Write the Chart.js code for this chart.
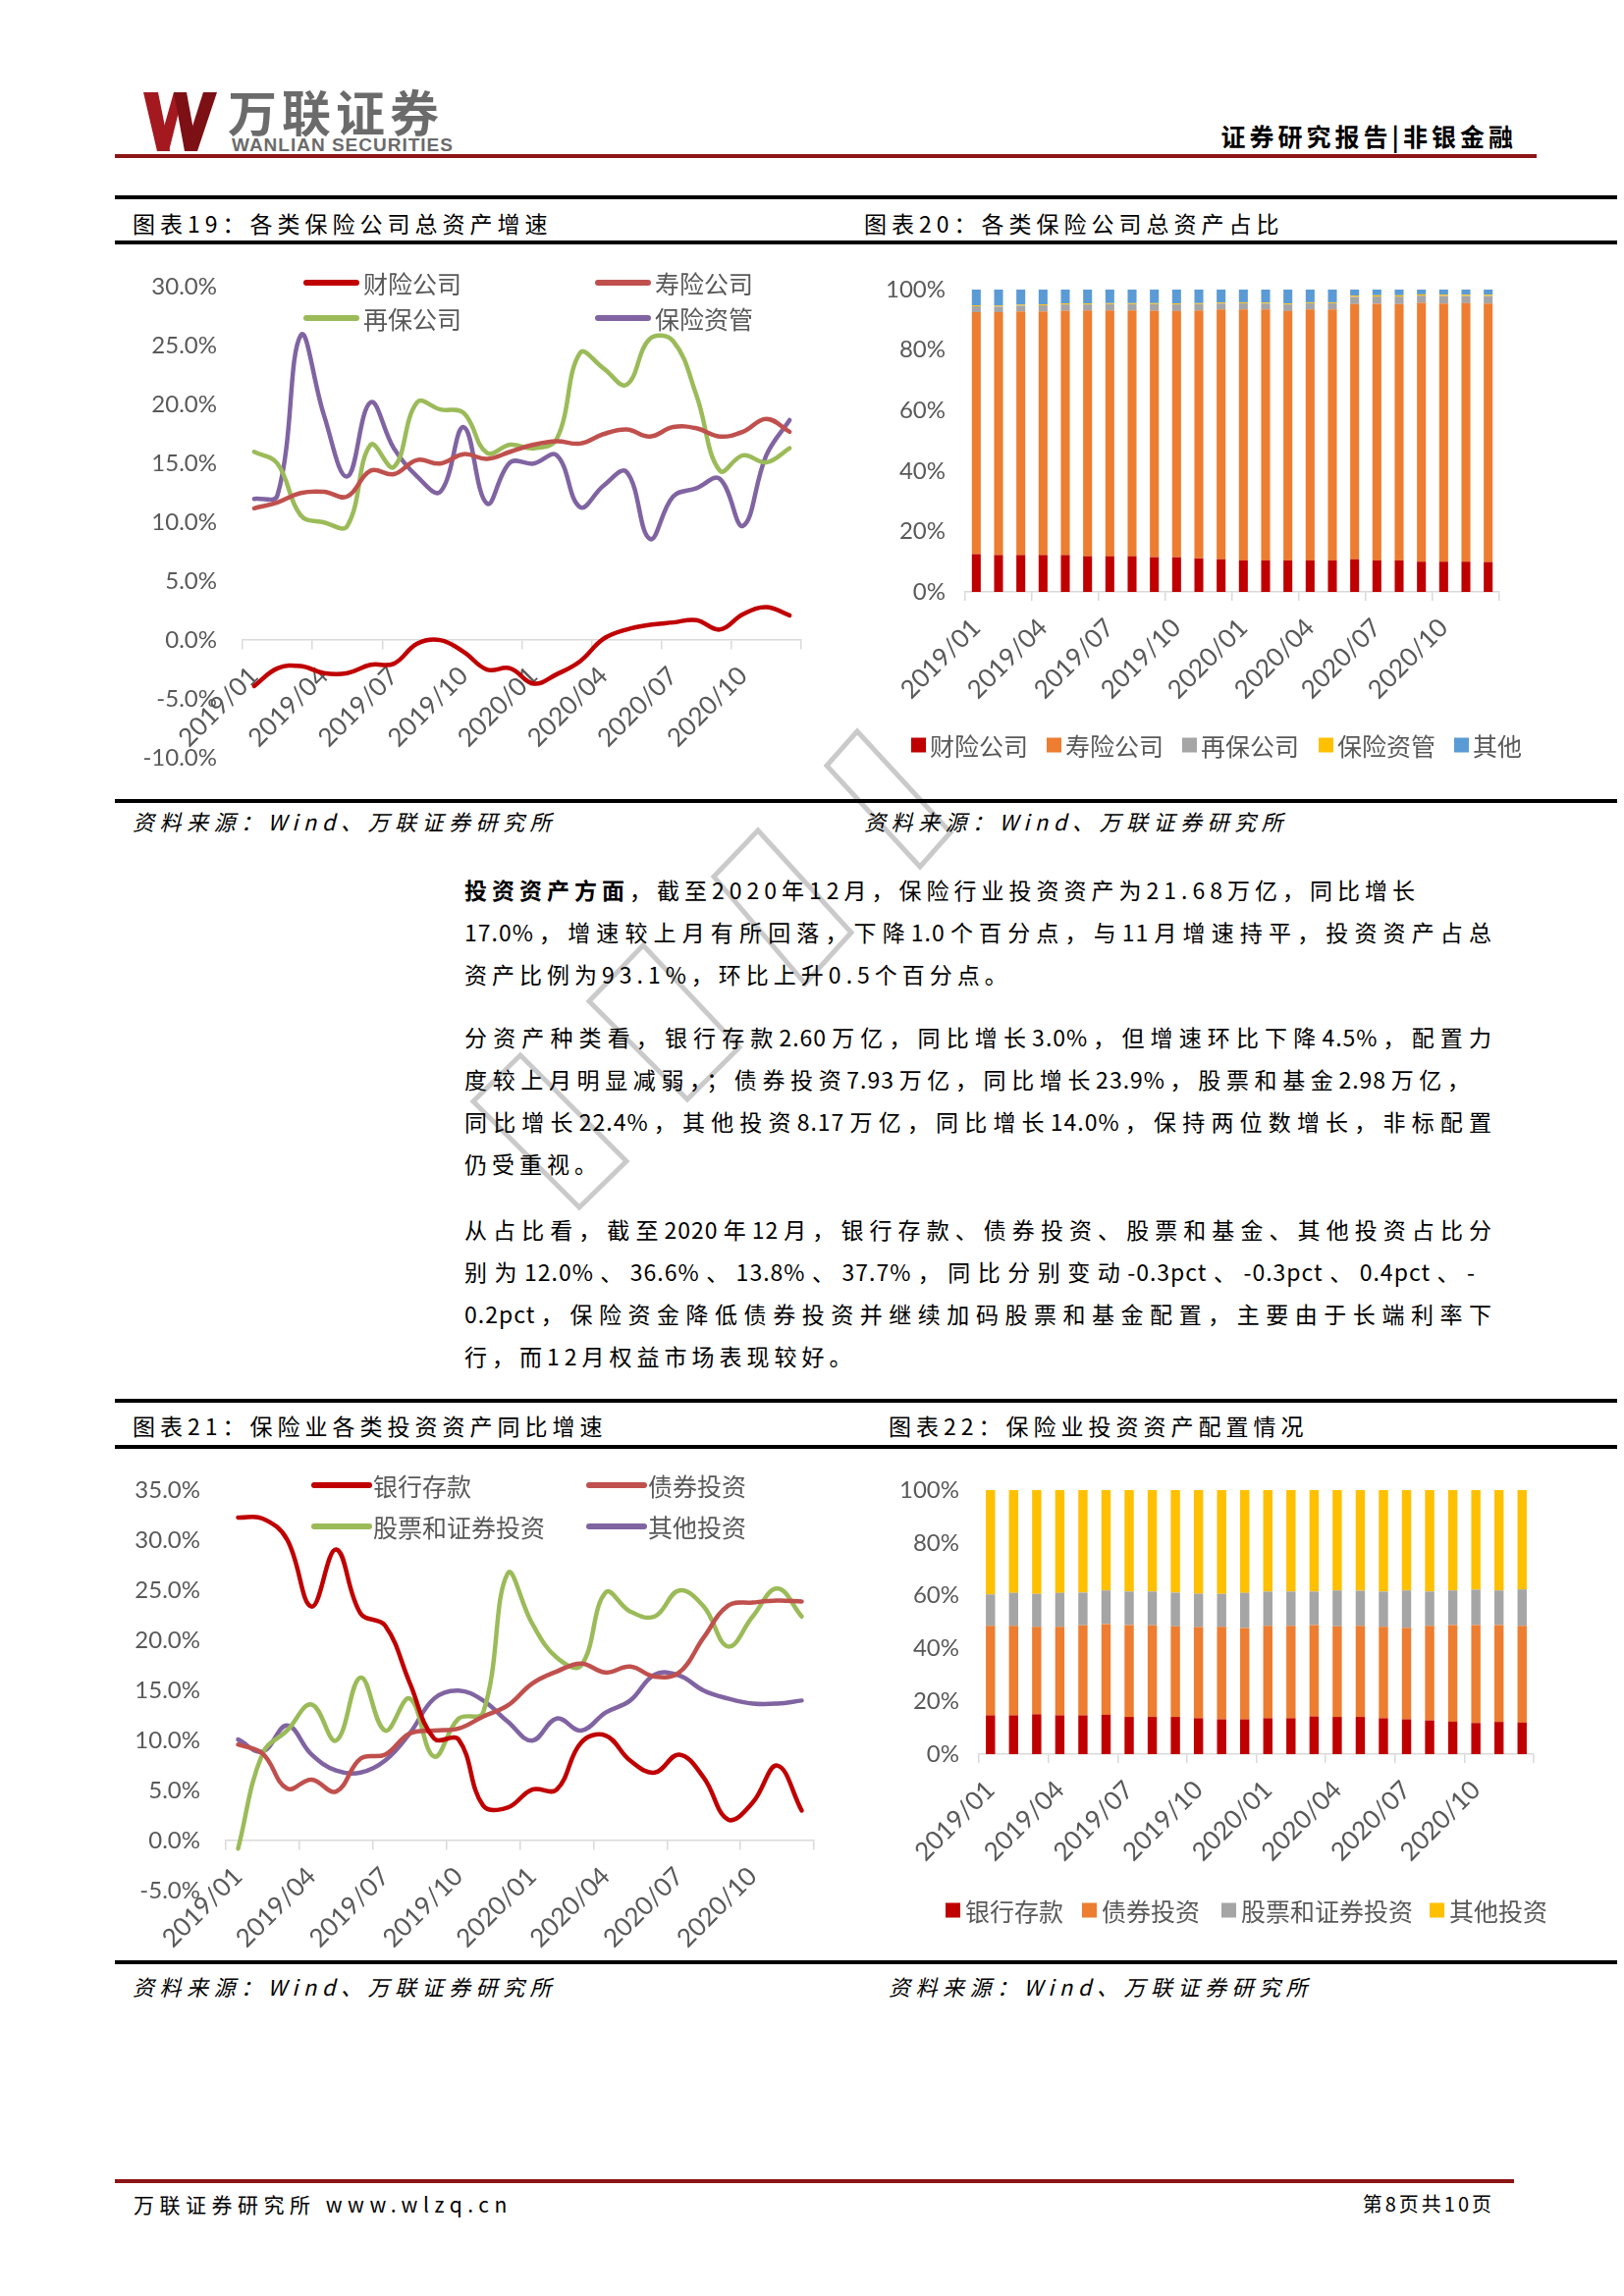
<!DOCTYPE html>
<html>
<head>
<meta charset="utf-8">
<script src="https://cdn.jsdelivr.net/npm/chart.js@4.4.0/dist/chart.umd.min.js"></script>
<style>
  body { margin:0; width:1654px; height:2339px; background:#fff; position:relative; overflow:hidden;
         font-family:'Noto Sans CJK SC', sans-serif; color:#000; }
  .abs { position:absolute; }
  .hr { position:absolute; left:117px; width:1530px; height:4px; background:#000; }
  .red { position:absolute; height:4px; background:#8c1515; }
  .t { position:absolute; font-size:23px; line-height:30px; height:30px; letter-spacing:5px; white-space:nowrap; }
  .src { font-style:italic; font-size:22px; letter-spacing:5.5px; }
  .p { position:absolute; left:473px; font-size:23px; line-height:30px; height:30px; letter-spacing:5px; white-space:nowrap; }
  .j { white-space:normal; letter-spacing:1px; text-align:justify; text-align-last:justify; }
  canvas { position:absolute; }
</style>
</head>
<body>

<!-- watermark outlines behind the text -->
<svg class="abs" style="left:0;top:0" width="1654" height="1300">
  <g fill="none" stroke="#cacaca" stroke-width="5">
    <polygon points="873,745 968,848 937,883 842,780"/>
    <polygon points="772,846 867,950 820,1002 727,893"/>
    <polygon points="655,963 753,1067 700,1120 600,1020"/>
    <polygon points="530,1075 638,1183 590,1230 482,1122"/>
  </g>
</svg>

<!-- header -->
<svg class="abs" style="left:140px;top:88px" width="90" height="72">
  <polygon points="6,6 21,6 33,66 20,66" fill="#a3191f"/>
  <polygon points="20,66 32,66 47,6 37,6" fill="#a3191f"/>
  <polygon points="37,6 50,6 61,66 48,66" fill="#7d1015"/>
  <polygon points="48,66 61,66 81,6 67,6" fill="#7d1015"/>
</svg>
<div class="abs" style="left:232px;top:84px;font-size:50px;font-weight:700;color:#6b6b6b;letter-spacing:5px;line-height:56px;">万联证券</div>
<div class="abs" style="left:236px;top:138px;font-family:'Liberation Sans';font-size:19px;font-weight:700;color:#6b6b6b;line-height:20px;letter-spacing:1px;">WANLIAN SECURITIES</div>
<div class="abs" style="right:109px;top:123px;font-size:25px;font-weight:700;letter-spacing:4px;line-height:30px;">证券研究报告|非银金融</div>
<div class="red" style="left:117px;top:157px;width:1448px;"></div>

<!-- top charts -->
<div class="hr" style="top:199px"></div>
<div class="t" style="left:135px;top:212px">图表19：各类保险公司总资产增速</div>
<div class="t" style="left:880px;top:212px">图表20：各类保险公司总资产占比</div>
<div class="hr" style="top:245px"></div>
<canvas id="c19" width="740" height="563" style="left:117px;top:252px"></canvas>
<canvas id="c20" width="760" height="563" style="left:870px;top:252px"></canvas>
<div class="hr" style="top:814px"></div>
<div class="t src" style="left:135px;top:821px">资料来源：Wind、万联证券研究所</div>
<div class="t src" style="left:880px;top:821px">资料来源：Wind、万联证券研究所</div>

<!-- text -->
<div class="p" style="top:891px"><b>投资资产方面</b>，截至2020年12月，保险行业投资资产为21.68万亿，同比增长</div>
<div class="p j" style="top:934px;width:1047px">17.0%，增速较上月有所回落，下降1.0个百分点，与11月增速持平，投资资产占总</div>
<div class="p" style="top:977px">资产比例为93.1%，环比上升0.5个百分点。</div>

<div class="p j" style="top:1041px;width:1047px">分资产种类看，银行存款2.60万亿，同比增长3.0%，但增速环比下降4.5%，配置力</div>
<div class="p j" style="top:1084px;width:1025px">度较上月明显减弱，；债券投资7.93万亿，同比增长23.9%，股票和基金2.98万亿，</div>
<div class="p j" style="top:1127px;width:1047px">同比增长22.4%，其他投资8.17万亿，同比增长14.0%，保持两位数增长，非标配置</div>
<div class="p" style="top:1170px">仍受重视。</div>

<div class="p j" style="top:1237px;width:1047px">从占比看，截至2020年12月，银行存款、债券投资、股票和基金、其他投资占比分</div>
<div class="p j" style="top:1280px;width:1030px">别为12.0%、36.6%、13.8%、37.7%，同比分别变动-0.3pct、-0.3pct、0.4pct、-</div>
<div class="p j" style="top:1323px;width:1047px">0.2pct，保险资金降低债券投资并继续加码股票和基金配置，主要由于长端利率下</div>
<div class="p" style="top:1366px">行，而12月权益市场表现较好。</div>

<!-- bottom charts -->
<div class="hr" style="top:1425px"></div>
<div class="t" style="left:135px;top:1437px">图表21：保险业各类投资资产同比增速</div>
<div class="t" style="left:905px;top:1437px">图表22：保险业投资资产配置情况</div>
<div class="hr" style="top:1472px"></div>
<canvas id="c21" width="740" height="518" style="left:117px;top:1478px"></canvas>
<canvas id="c22" width="760" height="518" style="left:870px;top:1478px"></canvas>
<div class="hr" style="top:1997px"></div>
<div class="t src" style="left:135px;top:2008px">资料来源：Wind、万联证券研究所</div>
<div class="t src" style="left:905px;top:2008px">资料来源：Wind、万联证券研究所</div>

<!-- footer -->
<div class="red" style="left:117px;top:2220px;width:1425px;"></div>
<div class="abs" style="left:136px;top:2231px;font-size:21px;letter-spacing:5.5px;line-height:28px;">万联证券研究所 www.wlzq.cn</div>
<div class="abs" style="right:132px;top:2231px;font-size:20px;letter-spacing:3px;line-height:28px;">第8页共10页</div>

<script>
// categories
const months = ['2019/01','2019/02','2019/03','2019/04','2019/05','2019/06','2019/07','2019/08','2019/09','2019/10','2019/11','2019/12',
                '2020/01','2020/02','2020/03','2020/04','2020/05','2020/06','2020/07','2020/08','2020/09','2020/10','2020/11','2020/12'];

// 图表19 各类保险公司总资产增速 (%)
const growthCaixian = [-3.9,-2.4,-2.2,-2.8,-2.8,-2.1,-2.0,-0.3,0.0,-1.0,-2.5,-2.4,-3.7,-2.9,-1.8,0.1,0.9,1.3,1.5,1.7,0.9,2.2,2.8,2.1];
const growthShouxian = [11.2,11.7,12.5,12.6,12.2,14.4,14.1,15.3,15.0,15.8,15.4,16.0,16.6,16.9,16.7,17.5,17.9,17.3,18.1,18.0,17.3,17.7,18.8,17.7];
const growthZaibao = [16.0,15.0,10.6,10.0,9.7,16.6,14.7,20.2,19.6,19.3,15.9,16.6,16.3,17.1,24.4,23.1,21.7,25.6,25.4,20.8,14.4,15.7,15.1,16.3];
const growthZiguan = [12.0,12.3,25.9,19.1,13.9,20.2,16.3,13.9,12.6,18.1,11.6,15.1,15.0,15.7,11.3,13.1,14.3,8.6,12.2,12.9,13.7,9.7,15.7,18.7];

// 图表20 各类保险公司总资产占比 (%)
const shareCaixian = [12.5,12.2,12.2,12.2,12.2,11.8,11.8,11.8,11.5,11.5,11.1,10.8,10.4,10.4,10.4,10.4,10.4,10.8,10.4,10.4,10.0,10.0,10.0,9.9];
const shareShouxian = [80.0,80.3,80.6,80.6,80.8,81.3,81.3,81.3,81.5,81.4,82.0,82.6,83.0,83.0,82.5,83.0,83.0,84.4,84.9,84.8,85.6,85.4,85.5,85.5];
const shareZaibao = [2.0,1.9,1.9,2.0,2.1,2.0,2.1,2.1,2.2,2.2,2.1,2.0,2.1,2.0,2.2,2.1,2.1,2.4,2.4,2.5,2.4,2.5,2.4,2.5];
const shareZiguan = [0.3,0.3,0.3,0.3,0.3,0.3,0.3,0.3,0.3,0.3,0.3,0.3,0.3,0.3,0.3,0.3,0.3,0.4,0.4,0.4,0.4,0.4,0.4,0.4];
const shareQita = [5.2,5.3,5.0,4.9,4.6,4.6,4.5,4.5,4.5,4.6,4.5,4.3,4.2,4.3,4.6,4.2,4.2,2.0,1.9,1.9,1.6,1.7,1.7,1.7];

// 图表21 保险业各类投资资产同比增速 (%)
const growthDeposit = [32.3,32.2,30.1,23.4,29.1,22.7,21.5,15.8,10.2,10.1,3.5,3.3,5.1,5.1,9.8,10.5,8.0,6.8,8.6,6.3,2.1,3.8,7.5,3.0];
const growthBond = [9.6,8.7,5.2,6.1,4.9,8.2,8.6,10.7,11.0,11.2,12.4,13.5,15.7,16.9,17.7,16.8,17.4,16.4,16.8,20.3,23.5,23.8,24.0,23.9];
const growthStock = [-0.8,8.7,11.0,13.6,10.0,16.3,11.0,14.2,8.4,12.2,12.8,26.7,21.7,18.3,17.5,24.8,22.9,22.4,25.0,23.4,19.4,22.4,25.2,22.4];
const growthOther = [10.1,8.9,11.5,8.6,7.0,6.8,8.0,10.7,14.2,15.0,14.0,11.9,10.0,12.2,11.0,12.8,14.0,16.6,16.5,15.0,14.2,13.7,13.7,14.0];

// 图表22 保险业投资资产配置情况 (%)
const allocDeposit = [14.7,14.7,15.1,14.7,14.7,14.9,14.1,14.1,14.1,13.6,13.2,13.2,13.6,13.6,14.3,14.1,14.1,13.6,13.2,12.8,12.3,11.8,12.2,12.0];
const allocBond = [33.9,33.9,33.1,33.5,34.1,34.4,34.8,34.7,34.3,34.5,35.0,34.6,35.0,35.0,34.6,34.3,34.5,34.6,34.7,35.8,36.6,37.1,36.7,36.6];
const allocStock = [11.9,12.5,12.5,12.9,12.4,12.7,12.7,12.8,12.8,12.7,12.5,13.3,13.0,13.0,12.7,13.6,13.3,13.4,14.1,13.0,13.1,13.4,13.1,13.8];
const allocOther = [39.5,38.9,39.3,38.9,38.8,38.0,38.4,38.4,38.8,39.2,39.3,38.9,38.4,38.4,38.4,38.0,38.1,38.4,38.0,38.4,38.0,37.7,38.0,37.6];

const LATIN = "Lato, 'Noto Sans CJK SC', sans-serif";
Chart.defaults.font.family = LATIN;
Chart.defaults.color = '#595959';
Chart.defaults.animation = false;

// legend spots drawn inside each canvas, like the Excel legends
const legendSpots = {
  c19: { marker: 'line', width: 51, gap: 58, items: [[195, 36], [492, 36], [195, 72], [492, 72]] },
  c20: { marker: 'rect', gap: 19, items: [[58, 507], [196, 507], [334, 507], [473, 507], [611, 507]] },
  c21: { marker: 'line', width: 56, gap: 60, items: [[203, 35], [483, 35], [203, 77], [483, 77]] },
  c22: { marker: 'rect', gap: 20, items: [[93, 468], [232, 468], [374, 468], [586, 468]] }
};

const pageLegend = {
  id: 'pageLegend',
  afterDraw(chart) {
    const spot = legendSpots[chart.canvas.id];
    const ctx = chart.ctx;
    ctx.save();
    ctx.font = "25px 'Noto Sans CJK SC'";
    ctx.textBaseline = 'middle';
    ctx.textAlign = 'left';
    chart.data.datasets.forEach((ds, i) => {
      const [x, y] = spot.items[i];
      if (spot.marker === 'line') {
        ctx.strokeStyle = ds.borderColor;
        ctx.lineWidth = 6;
        ctx.lineCap = 'round';
        ctx.beginPath();
        ctx.moveTo(x, y);
        ctx.lineTo(x + spot.width, y);
        ctx.stroke();
      } else {
        ctx.fillStyle = ds.backgroundColor;
        ctx.fillRect(x, y - 7.5, 15, 15);
      }
      ctx.fillStyle = '#595959';
      ctx.fillText(ds.label, x + spot.gap, y + 1);
    });
    ctx.restore();
  }
};

// tick marks on the category axis only every 3 months
const everyThird = (c) => (c.index === undefined || c.index % 3 === 0) ? '#d9d9d9' : 'rgba(0,0,0,0)';

function xAxis(extra) {
  return Object.assign({
    type: 'category',
    offset: true,
    grid: { offset: true, drawOnChartArea: false, drawTicks: true, tickLength: 9, color: everyThird, lineWidth: 1.5 },
    border: { color: '#d9d9d9', width: 1.5 },
    ticks: {
      autoSkip: false, minRotation: 45, maxRotation: 45, padding: 12,
      font: { size: 26 },
      callback: function (v, i) { return i % 3 === 0 ? this.getLabelForValue(v) : ''; }
    }
  }, extra);
}

function lineChart(id, sets, yMin, yMax, padding, yWidth) {
  new Chart(document.getElementById(id), {
    type: 'line',
    data: { labels: months, datasets: sets },
    plugins: [pageLegend],
    options: {
      responsive: false,
      layout: { padding: padding },
      elements: { line: { tension: 0.4, borderWidth: 4.5, borderCapStyle: 'round' }, point: { radius: 0 } },
      plugins: { legend: { display: false }, tooltip: { enabled: false } },
      scales: {
        x: xAxis({ position: { y: 0 } }),
        y: {
          min: yMin, max: yMax,
          grid: { display: false, drawTicks: false },
          border: { display: false },
          ticks: { stepSize: 5, padding: 26, font: { size: 24 }, callback: v => v.toFixed(1) + '%' },
          afterFit: s => { s.width = yWidth; }
        }
      }
    }
  });
}

function barChart(id, sets, padding, yWidth, xHeight) {
  new Chart(document.getElementById(id), {
    type: 'bar',
    data: { labels: months, datasets: sets },
    plugins: [pageLegend],
    options: {
      responsive: false,
      layout: { padding: padding },
      datasets: { bar: { barPercentage: 0.4, categoryPercentage: 1 } },
      plugins: { legend: { display: false }, tooltip: { enabled: false } },
      scales: {
        x: xAxis({ stacked: true, afterFit: s => { s.height = xHeight; } }),
        y: {
          stacked: true, min: 0, max: 100,
          grid: { display: false, drawTicks: false },
          border: { display: false },
          ticks: { stepSize: 20, padding: 20, font: { size: 24 }, callback: v => v + '%' },
          afterFit: s => { s.width = yWidth; }
        }
      }
    }
  });
}

lineChart('c19', [
  { label: '财险公司', data: growthCaixian, borderColor: '#c00000' },
  { label: '寿险公司', data: growthShouxian, borderColor: '#c0504d' },
  { label: '再保公司', data: growthZaibao, borderColor: '#9bbb59' },
  { label: '保险资管', data: growthZiguan, borderColor: '#8064a2' }
], -10, 30, { left: 0, right: 41, top: 37, bottom: 43 }, 130);

barChart('c20', [
  { label: '财险公司', data: shareCaixian, backgroundColor: '#c00000' },
  { label: '寿险公司', data: shareShouxian, backgroundColor: '#ed7d31' },
  { label: '再保公司', data: shareZaibao, backgroundColor: '#a5a5a5' },
  { label: '保险资管', data: shareZiguan, backgroundColor: '#ffc000' },
  { label: '其他', data: shareQita, backgroundColor: '#5b9bd5' }
], { left: 0, right: 103, top: 43, bottom: 92 }, 113, 120);

lineChart('c21', [
  { label: '银行存款', data: growthDeposit, borderColor: '#c00000' },
  { label: '债券投资', data: growthBond, borderColor: '#c0504d' },
  { label: '股票和证券投资', data: growthStock, borderColor: '#9bbb59' },
  { label: '其他投资', data: growthOther, borderColor: '#8064a2' }
], -5, 35, { left: 0, right: 28, top: 31, bottom: 70 }, 113);

barChart('c22', [
  { label: '银行存款', data: allocDeposit, backgroundColor: '#c00000' },
  { label: '债券投资', data: allocBond, backgroundColor: '#ed7d31' },
  { label: '股票和证券投资', data: allocStock, backgroundColor: '#a5a5a5' },
  { label: '其他投资', data: allocOther, backgroundColor: '#ffc000' }
], { left: 0, right: 68, top: 40, bottom: 89 }, 127, 120);
</script>
</body>
</html>
